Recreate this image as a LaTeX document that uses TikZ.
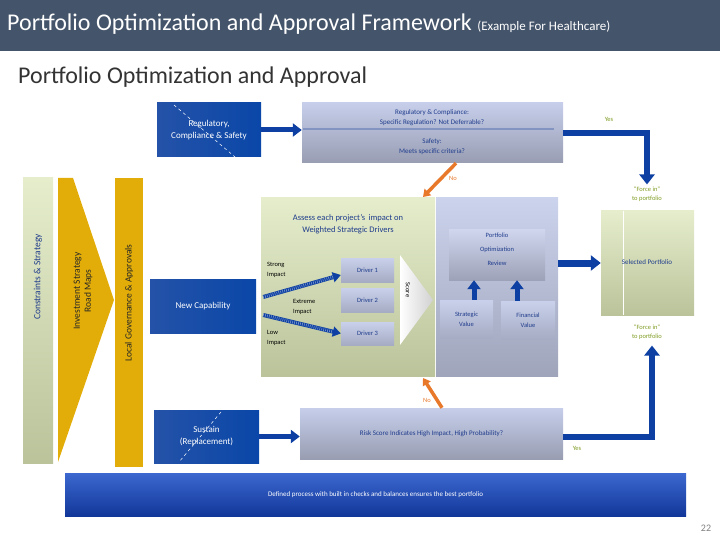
\documentclass[tikz,border=0pt]{standalone}
\usepackage{fontspec}
\setmainfont{Carlito}
\usepackage{tikz}
\usetikzlibrary{positioning,arrows.meta,calc}

\definecolor{slate}{HTML}{44546A}
\definecolor{boxdark}{HTML}{2452A8}
\definecolor{boxlight}{HTML}{94A7D8}
\definecolor{boxedge}{HTML}{0A47A8}
\definecolor{flowblue}{HTML}{0D40A2}
\definecolor{txtblue}{HTML}{1F3C8C}
\definecolor{lavtop}{HTML}{C6CEEA}
\definecolor{lavbot}{HTML}{989DB2}
\definecolor{greentop}{HTML}{E5EDCC}
\definecolor{greenbot}{HTML}{BAC39A}
\definecolor{gold}{HTML}{E2AD08}
\definecolor{yesgreen}{HTML}{7E9B22}
\definecolor{noorange}{HTML}{E8782A}
\definecolor{bannertop}{HTML}{3C68CF}
\definecolor{bannerbot}{HTML}{12379A}

\begin{document}
\begin{tikzpicture}[x=1pt,y=-1pt,inner sep=0pt,
    bluebox/.style={left color=boxdark,middle color=boxlight,right color=boxedge,
                    text=white,align=center,font=\fontsize{9}{12}\selectfont},
    greybox/.style={top color=lavtop,bottom color=lavbot,text=txtblue,align=center,
                    font=\fontsize{7}{10}\selectfont},
    softbox/.style={top color=lavtop!95!white,bottom color=lavbot!70!lavtop,text=txtblue,
                    align=center,font=\fontsize{6.5}{10}\selectfont},
    greenbox/.style={top color=greentop,bottom color=greenbot},
    bartxt/.style={rotate=90,align=center,font=\fontsize{9.5}{11}\selectfont},
    tiny/.style={font=\fontsize{6.5}{10}\selectfont,align=left},
    yeslbl/.style={text=yesgreen,font=\fontsize{6.5}{9}\selectfont,align=center},
    nolbl/.style={text=noorange,font=\fontsize{6.5}{8}\selectfont},
    flow/.style={draw=flowblue,line width=5pt,-{Triangle[width=13pt,length=9pt]}},
    hatch/.style={draw=flowblue,line width=4pt,-{Triangle[width=10pt,length=8pt]},
                  postaction={draw=white,opacity=0.5,line width=3pt,dash pattern=on 0.5pt off 1.5pt,-,shorten >=8pt}},
    noflow/.style={draw=noorange,line width=3.5pt,-{Triangle[width=9pt,length=7pt]}}]
  \useasboundingbox (0,0) rectangle (720,540);

  % header
  \fill[slate] (0,0) rectangle (720,51);
  \node[anchor=base west,text=white,font=\fontsize{24}{28}\selectfont] (title) at (7,31)
    {Portfolio Optimization and Approval Framework {\fontsize{13}{15}\selectfont(Example For Healthcare)}};
  \node[anchor=base west,text=black!80,font=\fontsize{24}{28}\selectfont] (subtitle) at (18,84)
    {Portfolio Optimization and Approval};

  % left bars
  \node[greenbox,minimum width=30,minimum height=285] (cons) at (38,320.5) {};
  \node[bartxt,text=txtblue] (constxt) at (38,277) {Constraints \& Strategy};
  \fill[gold] (58,178) -- (73,178) -- (114,300) -- (58,462) -- cycle;
  \node[bartxt,text=black!85] (invtxt) at (83,291) {Investment Strategy\\Road Maps};
  \node[fill=gold,minimum width=28,minimum height=289] (gov) at (129,322.5) {};
  \node[bartxt,text=black!85] (govtxt) at (129,303) {Local Governance \& Approvals};

  % regulatory check
  \node[bluebox,minimum width=104,minimum height=54] (reg) at (209,130) {Regulatory,\\Compliance \& Safety};
  \draw[white,dashed,line width=0.5pt] (174,105) -- (235,157);
  \node[greybox,minimum width=261,minimum height=60] (dec) at (432.5,133) {};
  \draw[draw=txtblue!55,line width=1.2pt] (303,129) -- (554,129);
  \node[text=txtblue,align=center,font=\fontsize{7}{10}\selectfont] (decA) at (432,118)
    {Regulatory \& Compliance:\\Specific Regulation? Not Deferrable?};
  \node[text=txtblue,align=center,font=\fontsize{7}{10}\selectfont] (decB) at (432,147)
    {Safety:\\Meets specific criteria?};
  \node[yeslbl] (yesA) at (609,119) {Yes};
  \node[yeslbl] (forceA) at (647,194) {``Force in''\\to portfolio};
  \node[nolbl] (noA) at (453,178) {No};
  \coordinate (noAend) at (423,197);

  % drivers panel
  \node[greenbox,minimum width=174,minimum height=178] (assess) at (348,287) {};
  \node[greybox,top color=lavtop!90!white,bottom color=lavbot!85!lavtop,minimum width=122,minimum height=178] (port) at (497,287) {};
  \node[text=txtblue,align=center,font=\fontsize{8.5}{12}\selectfont] (assesstxt) at (348,224)
    {Assess each project's\,\ impact on\\Weighted Strategic Drivers};
  \node[softbox,minimum width=53,minimum height=24] (drv1) at (367.5,270) {Driver 1};
  \node[softbox,minimum width=53,minimum height=24] (drv2) at (367.5,300) {Driver 2};
  \node[softbox,minimum width=53,minimum height=23] (drv3) at (367.5,333.5) {Driver 3};
  \shade[left color=white,right color=black!18] (400,255) -- (433,300) -- (400,345) -- cycle;
  \node[rotate=-90,font=\fontsize{6.5}{8}\selectfont] (score) at (408,290) {Score};
  \node[tiny,anchor=west] (strong) at (267,270) {Strong\\Impact};
  \node[tiny,anchor=west] (extreme) at (293,306.5) {Extreme\\Impact};
  \node[tiny,anchor=west] (low) at (267,337.5) {Low\\Impact};
  \node[bluebox,minimum width=106,minimum height=54] (newcap) at (203,306) {New Capability};

  % portfolio review
  \node[greybox,top color=lavtop!85!white,bottom color=lavbot!90!lavtop,minimum width=96,minimum height=50] (review) at (497,255) {};
  \node[text=txtblue,align=center,font=\fontsize{6.5}{14}\selectfont] (reviewtxt) at (497,249)
    {Portfolio\\Optimization\\Review};
  \node[softbox,minimum width=53,minimum height=38] (strat) at (466.5,319) {Strategic\\Value};
  \node[softbox,minimum width=54,minimum height=38] (fin) at (528,320) {Financial\\Value};
  \node[greenbox,minimum width=93,minimum height=104,text=txtblue,font=\fontsize{7}{9}\selectfont] (sel) at (647.5,263) {};
  \draw[white,line width=1pt] ([xshift=23]sel.north west) -- ([xshift=23]sel.south west);
  \node[text=txtblue,font=\fontsize{7}{9}\selectfont] (seltxt) at (647,262) {Selected Portfolio};
  \node[yeslbl] (forceB) at (647,332) {``Force in''\\to portfolio};

  % risk check
  \node[bluebox,minimum width=105,minimum height=53] (sus) at (206.5,436.5) {Sustain\\(Replacement)};
  \draw[white,dashed,line width=0.5pt] (221,412) -- (179,462);
  \node[greybox,minimum width=263,minimum height=51] (risk) at (431.5,433.5)
    {Risk Score Indicates High Impact, High Probability?};
  \node[yeslbl] (yesB) at (577,448) {Yes};
  \node[nolbl] (noB) at (427,400) {No};
  \coordinate (noBend) at (423,378);

  % banner
  \node[top color=bannertop,bottom color=bannerbot,minimum width=621,minimum height=43,
        text=white,font=\fontsize{7}{9}\selectfont] (banner) at (375.5,494.5)
    {Defined process with built in checks and balances ensures the best portfolio};
  \node[text=black!50,font=\fontsize{10}{12}\selectfont] (page) at (706,528) {22};

  % connectors
  \draw[flow] (reg.east) -- (reg.east -| dec.west);
  \draw[flow,line width=6pt,-{Triangle[width=15pt,length=10pt]}] (dec.east) -| ([yshift=2pt]forceA.north);
  \draw[noflow] ([xshift=23.5pt]dec.south) -- (noAend);
  \draw[hatch] ([shift={(7,-9)}]newcap.east) -- ([yshift=-5pt]drv1.west);
  \draw[hatch] ([shift={(7,9)}]newcap.east) -- (drv3.west);
  \draw[flow] ([xshift=7.5pt]strat.north) -- ([xshift=7.5pt]strat.north |- review.south);
  \draw[flow] ([xshift=-11pt]fin.north) -- ([xshift=-11pt]fin.north |- review.south);
  \draw[flow,line width=7pt,-{Triangle[width=15pt,length=10pt]}] (port.east |- sel.west) -- (sel.west);
  \draw[flow] (sus.east) -- (sus.east -| risk.west);
  \draw[flow,line width=6pt,-{Triangle[width=15pt,length=10pt]}] ([yshift=-3.5pt]risk.east) -| ([xshift=5pt,yshift=-6pt]forceB.south);
  \draw[noflow] ([xshift=10.5pt]risk.north) -- (noBend);
\end{tikzpicture}
\end{document}
